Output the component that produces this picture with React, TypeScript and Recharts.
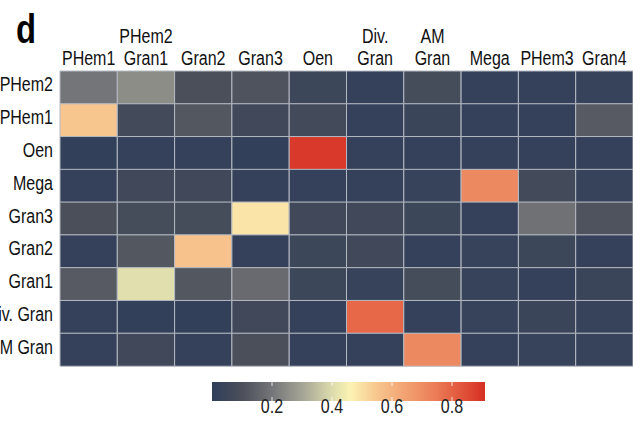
import React from "react";
import { BarChart, Bar, Cell, XAxis, YAxis } from "recharts";

// column / row labels (top -> bottom)
const COLUMNS = ["PHem1", "PHem2\nGran1", "Gran2", "Gran3", "Oen", "Div.\nGran", "AM\nGran", "Mega", "PHem3", "Gran4"];
const ROWS = ["PHem2", "PHem1", "Oen", "Mega", "Gran3", "Gran2", "Gran1", "Div. Gran", "AM Gran"];

// correlation values per row, in COLUMNS order
const PHEM2_ROW = [0.2, 0.25, 0.1, 0.11, 0.05, 0.02, 0.08, 0.02, 0.02, 0.03];
const PHEM1_ROW = [0.55, 0.07, 0.12, 0.06, 0.07, 0.02, 0.04, 0.02, 0.02, 0.13];
const OEN_ROW = [0.01, 0.02, 0.02, 0.01, 0.89, 0.02, 0.02, 0.02, 0.02, 0.02];
const MEGA_ROW = [0.02, 0.06, 0.06, 0.02, 0.02, 0.02, 0.03, 0.71, 0.07, 0.03];
const GRAN3_ROW = [0.1, 0.08, 0.08, 0.49, 0.06, 0.06, 0.05, 0.02, 0.19, 0.11];
const GRAN2_ROW = [0.02, 0.12, 0.56, 0.02, 0.05, 0.06, 0.02, 0.03, 0.05, 0.02];
const GRAN1_ROW = [0.13, 0.41, 0.12, 0.17, 0.05, 0.03, 0.08, 0.03, 0.02, 0.04];
const DIVGRAN_ROW = [0.02, 0.01, 0.01, 0.06, 0.02, 0.79, 0.02, 0.03, 0.04, 0.03];
const AMGRAN_ROW = [0.02, 0.06, 0.02, 0.1, 0.02, 0.02, 0.71, 0.02, 0.03, 0.03];
const VALUES = [PHEM2_ROW, PHEM1_ROW, OEN_ROW, MEGA_ROW, GRAN3_ROW, GRAN2_ROW, GRAN1_ROW, DIVGRAN_ROW, AMGRAN_ROW];

const LEGEND_TICKS = [0.2, 0.4, 0.6, 0.8];
const LEGEND_MAX = 0.91;

// colour ramp: navy -> grey -> pale yellow -> orange -> red
const STOPS: [number, string][] = [
  [0, "#2f3e5a"],
  [0.1, "#4b4f5a"],
  [0.2, "#747578"],
  [0.3, "#a4a496"],
  [0.4, "#dcdbac"],
  [0.46, "#fbf3b4"],
  [0.55, "#f7c68e"],
  [0.65, "#f2a070"],
  [0.75, "#ea7a55"],
  [0.85, "#df4c36"],
  [0.91, "#d62f24"],
];

function hexToRgb(h: string) {
  const n = parseInt(h.slice(1), 16);
  return [(n >> 16) & 255, (n >> 8) & 255, n & 255];
}

function colorAt(v: number): string {
  if (v <= STOPS[0][0]) return STOPS[0][1];
  for (let i = 1; i < STOPS.length; i++) {
    const [v1, c1] = STOPS[i];
    if (v <= v1) {
      const [v0, c0] = STOPS[i - 1];
      const t = (v - v0) / (v1 - v0);
      const a = hexToRgb(c0);
      const b = hexToRgb(c1);
      const m = a.map((x, k) => Math.round(x + (b[k] - x) * t));
      return `rgb(${m[0]},${m[1]},${m[2]})`;
    }
  }
  return STOPS[STOPS.length - 1][1];
}

const FONT = "'Liberation Sans', Arial, sans-serif";
const SQUEEZE = "scale(0.8,1)";

const tableRows = ROWS.map((row) => {
  const r: Record<string, string | number> = { row };
  COLUMNS.forEach((_, j) => {
    r[`c${j}`] = 1;
  });
  return r;
});

function ColumnTick({ x, y, payload }: any) {
  const lines = COLUMNS[Math.floor(payload.value)].split("\n");
  return (
    <g transform={`translate(${x},${y})`}>
      {lines.map((ln, k) => (
        <text
          key={k}
          transform={SQUEEZE}
          x={0}
          y={-4 - (lines.length - 1 - k) * 22}
          textAnchor="middle"
          fontFamily={FONT}
          fontSize={20}
          fill="#111"
        >
          {ln}
        </text>
      ))}
    </g>
  );
}

function RowTick({ x, y, payload }: any) {
  return (
    <g transform={`translate(${x},${y})`}>
      <text transform={SQUEEZE} x={0} y={4} textAnchor="end" fontFamily={FONT} fontSize={20} fill="#111">
        {payload.value}
      </text>
    </g>
  );
}

export default function App() {
  const barX0 = 212;
  const pxPerUnit = 300;
  return (
    <div style={{ position: "absolute", left: 0, top: 0, width: 633, height: 424, background: "#fff" }}>
      <BarChart
        width={633}
        height={424}
        data={tableRows}
        layout="vertical"
        margin={{ top: 0, right: 0, bottom: 58, left: 0 }}
        barCategoryGap={0}
      >
        <XAxis
          type="number"
          orientation="top"
          domain={[0, 10]}
          ticks={COLUMNS.map((_, j) => j + 0.5)}
          interval={0}
          height={71}
          axisLine={false}
          tickLine={false}
          tickSize={0}
          tick={<ColumnTick />}
        />
        <YAxis
          type="category"
          dataKey="row"
          width={60}
          interval={0}
          axisLine={false}
          tickLine={false}
          tickSize={0}
          tickMargin={7}
          tick={<RowTick />}
        />
        {COLUMNS.map((_, j) => (
          <Bar key={j} dataKey={`c${j}`} stackId="s" isAnimationActive={false}>
            {ROWS.map((_, i) => (
              <Cell key={i} fill={colorAt(VALUES[i][j])} stroke="#b4b9c1" strokeWidth={1} />
            ))}
          </Bar>
        ))}
      </BarChart>

      <svg width={633} height={424} style={{ position: "absolute", left: 0, top: 0, pointerEvents: "none" }}>
        <defs>
          <linearGradient id="ramp" x1="0" x2="1" y1="0" y2="0">
            {STOPS.map(([v, c]) => (
              <stop key={v} offset={v / LEGEND_MAX} stopColor={c} />
            ))}
          </linearGradient>
        </defs>
        <text x={0} y={43} transform="translate(16,0) scale(0.8,1)" fontFamily={FONT} fontWeight="bold" fontSize={41} fill="#000">
          d
        </text>
        <rect x={barX0} y={382} width={LEGEND_MAX * pxPerUnit} height={19} fill="url(#ramp)" />
        {LEGEND_TICKS.map((t) => {
          const tx = barX0 + t * pxPerUnit;
          return (
            <g key={t}>
              <line x1={tx} x2={tx} y1={382} y2={386} stroke="#fff" strokeOpacity={0.8} />
              <line x1={tx} x2={tx} y1={397} y2={401} stroke="#fff" strokeOpacity={0.8} />
              <g transform={`translate(${tx},413)`}>
                <text transform={SQUEEZE} x={0} y={0} textAnchor="middle" fontFamily={FONT} fontSize={20} fill="#222">
                  {t.toFixed(1)}
                </text>
              </g>
            </g>
          );
        })}
      </svg>
    </div>
  );
}
